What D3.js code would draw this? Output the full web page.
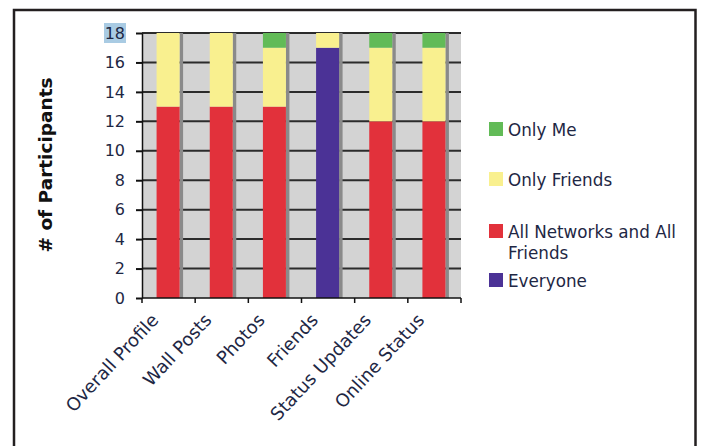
<!DOCTYPE html>
<html>
<head>
<meta charset="utf-8">
<script src="https://cdn.jsdelivr.net/npm/d3@7"></script>
<style>
  body { margin: 0; background: #fff; }
  svg { display: block; font-family: "DejaVu Sans", Verdana, sans-serif; }
</style>
</head>
<body>
<div id="chart"></div>
<script>
// categories along the x axis
var categories = ["Overall Profile", "Wall Posts", "Photos", "Friends", "Status Updates", "Online Status"];
// stacked series, bottom to top
var everyone    = [0, 0, 0, 17, 0, 0];
var allNetworks = [13, 13, 13, 0, 12, 12];
var onlyFriends = [5, 5, 4, 1, 5, 5];
var onlyMe      = [0, 0, 1, 0, 1, 1];
var seriesNames = ["Everyone", "All Networks and All Friends", "Only Friends", "Only Me"];
var seriesColors = ["#4b3296", "#e2313b", "#f9f08f", "#62bb57"];
var yTicks = [0, 2, 4, 6, 8, 10, 12, 14, 16, 18];

(function(){
  var W = 701, H = 446;
  var plot = {left: 142, right: 461, top: 33, bottom: 298};

  var svg = d3.select("#chart").append("svg")
    .attr("width", W).attr("height", H);

  // outer frame (no bottom edge)
  svg.append("path")
    .attr("d", "M14,446 L14,10 L695.5,10 L695.5,446")
    .attr("fill", "none").attr("stroke", "#231f20").attr("stroke-width", 2.5);

  var x = d3.scaleBand().domain(categories).range([plot.left, plot.right]).paddingInner(0).paddingOuter(0);
  var y = d3.scaleLinear().domain([0, 18]).range([plot.bottom, plot.top]);

  // plot background
  svg.append("rect")
    .attr("x", plot.left).attr("y", plot.top)
    .attr("width", plot.right - plot.left).attr("height", plot.bottom - plot.top)
    .attr("fill", "#d3d3d3");

  // gridlines
  svg.append("g").selectAll("line")
    .data(yTicks.filter(function(d){ return d > 0; }))
    .join("line")
    .attr("x1", plot.left).attr("x2", plot.right)
    .attr("y1", function(d){ return y(d); }).attr("y2", function(d){ return y(d); })
    .attr("stroke", "#2b2b2b").attr("stroke-width", 2);

  var barW = 23;
  var bx = function(c){ return x(c) + (x.bandwidth() - barW) / 2 - 0.5; };

  // grey strip right of each bar
  svg.append("g").selectAll("rect")
    .data(categories)
    .join("rect")
    .attr("x", function(c){ return bx(c) + barW; })
    .attr("y", plot.top)
    .attr("width", 3.5)
    .attr("height", plot.bottom - plot.top)
    .attr("fill", "#8a8a8a");

  // stacked bars
  var rows = categories.map(function(c, i){
    return {cat: c, Everyone: everyone[i], "All Networks and All Friends": allNetworks[i],
            "Only Friends": onlyFriends[i], "Only Me": onlyMe[i]};
  });
  var stack = d3.stack().keys(seriesNames)(rows);

  svg.append("g").selectAll("g")
    .data(stack)
    .join("g")
      .attr("fill", function(d, i){ return seriesColors[i]; })
    .selectAll("rect")
    .data(function(d){ return d; })
    .join("rect")
      .attr("x", function(d){ return bx(d.data.cat); })
      .attr("y", function(d){ return y(d[1]); })
      .attr("width", barW)
      .attr("height", function(d){ return y(d[0]) - y(d[1]); });

  // highlight behind the "18" label
  svg.append("rect")
    .attr("x", 104).attr("y", 23).attr("width", 22).attr("height", 20)
    .attr("fill", "#a9cbe3");

  // y axis
  var yAxis = svg.append("g")
    .attr("transform", "translate(" + plot.left + ",0)")
    .call(d3.axisLeft(y).tickValues(yTicks).tickSize(6).tickPadding(11).tickSizeOuter(0));
  yAxis.select(".domain").attr("stroke", "#111").attr("stroke-width", 1.5);
  yAxis.selectAll(".tick line").attr("stroke", "#111").attr("stroke-width", 2);
  yAxis.selectAll("text")
    .attr("font-size", 16).attr("fill", "#1e2744")
    .attr("font-family", "DejaVu Sans, Verdana, sans-serif");

  // x axis line and boundary ticks
  var gx = svg.append("g");
  gx.append("line")
    .attr("x1", plot.left).attr("x2", plot.right)
    .attr("y1", plot.bottom).attr("y2", plot.bottom)
    .attr("stroke", "#111").attr("stroke-width", 1.5);
  var bounds = categories.map(function(c){ return x(c); }).concat([plot.right]);
  gx.selectAll("line.tk")
    .data(bounds)
    .join("line")
    .attr("class", "tk")
    .attr("x1", function(d){ return d; }).attr("x2", function(d){ return d; })
    .attr("y1", plot.bottom).attr("y2", plot.bottom + 5)
    .attr("stroke", "#111").attr("stroke-width", 1.5);

  // category labels
  gx.selectAll("text")
    .data(categories)
    .join("text")
    .attr("transform", function(c){
      return "translate(" + (x(c) + x.bandwidth() / 2 - 9) + "," + (plot.bottom + 23) + ") rotate(-47)";
    })
    .attr("text-anchor", "end")
    .attr("font-size", 18).attr("fill", "#1e2744")
    .text(function(c){ return c; });

  // y title
  svg.append("text")
    .attr("transform", "translate(52,165) rotate(-90)")
    .attr("text-anchor", "middle")
    .attr("font-size", 18.5).attr("font-weight", "bold").attr("fill", "#111")
    .text("# of Participants");

  // legend
  var legend = [
    {name: "Only Me", color: seriesColors[3], y: 122, lines: ["Only Me"]},
    {name: "Only Friends", color: seriesColors[2], y: 172, lines: ["Only Friends"]},
    {name: "All Networks and All Friends", color: seriesColors[1], y: 224, lines: ["All Networks and All", "Friends"]},
    {name: "Everyone", color: seriesColors[0], y: 273, lines: ["Everyone"]}
  ];
  var lg = svg.append("g").selectAll("g")
    .data(legend)
    .join("g")
    .attr("transform", function(d){ return "translate(489," + d.y + ")"; });
  lg.append("rect")
    .attr("width", 14).attr("height", 14)
    .attr("fill", function(d){ return d.color; });
  lg.append("text")
    .attr("x", 19).attr("y", 14)
    .attr("font-size", 16.8).attr("fill", "#1e2744")
    .selectAll("tspan")
    .data(function(d){ return d.lines; })
    .join("tspan")
    .attr("x", 19)
    .attr("dy", function(d, i){ return i === 0 ? 0 : 21; })
    .text(function(d){ return d; });
})();
</script>
</body>
</html>
